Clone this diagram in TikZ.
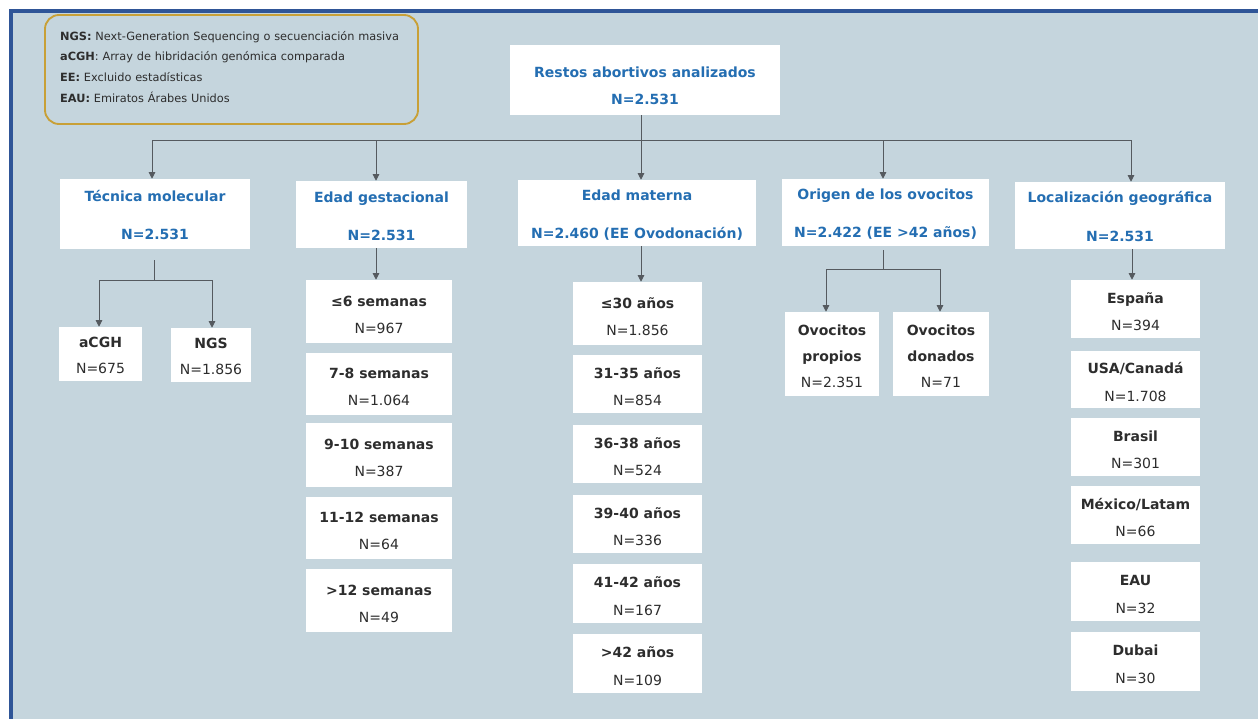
\documentclass[tikz,border=0pt]{standalone}
\usepackage{fontspec}
\setmainfont{DejaVu Sans}
\usetikzlibrary{arrows.meta}
\definecolor{bgc}{RGB}{197,213,221}
\definecolor{bord}{RGB}{47,85,151}
\definecolor{gold}{RGB}{200,160,55}
\definecolor{hblue}{RGB}{36,110,178}
\definecolor{txt}{RGB}{45,45,45}
\definecolor{lnc}{RGB}{85,90,95}
\newcommand{\Tst}[1]{\rule{0pt}{#1pt}}
\newcommand{\Bst}[1]{\rule[-#1pt]{0pt}{#1pt}}
\tikzset{
  sz/.style 2 args={minimum width=#1*0.75pt, minimum height=#2*0.75pt},
  hdr/.style={fill=white, draw=none, text=hblue, inner sep=0pt, align=center,
    font={\fontsize{10.5}{28.5}\selectfont\bfseries}},
  rootbox/.style={hdr, font={\fontsize{10.5}{20.25}\selectfont\bfseries}},
  subbox/.style={fill=white, draw=none, text=txt, inner sep=0pt, align=center,
    font={\fontsize{10.5}{20.6}\selectfont}},
  legendbox/.style={draw=gold, line width=1.4pt, fill=bgc, rounded corners=10.5pt,
    inner xsep=11.25pt, inner ysep=0pt, text width=257pt, align=left, text=txt,
    font={\fontsize{8.5}{15.5}\selectfont}},
  ln/.style={draw=lnc, line width=0.7pt},
  arr/.style={ln, -{Triangle[length=5pt,width=5pt]}},
}
\begin{document}
\begin{tikzpicture}[x=0.75pt,y=-0.75pt]
\useasboundingbox (0,0) rectangle (1258,719);
% frame
\fill[white] (0,0) rectangle (1258,719);
\fill[bgc] (11,11) rectangle (1258,719);
\fill[bord] (9,9) rectangle (1258,12.5);
\fill[bord] (9,9) rectangle (12.5,719);

% legend
\node[legendbox, sz={373}{109}] (leg) at (231.5,69.5) {%
\textbf{NGS:} Next-Generation Sequencing o secuenciación masiva\\
\textbf{aCGH}: Array de hibridación genómica comparada\\
\textbf{EE:} Excluido estadísticas\\
\textbf{EAU:} Emiratos Árabes Unidos\Bst{4.5}};

% root
\node[rootbox, sz={270}{70}] (root) at (645,80) {\Tst{17}Restos abortivos analizados\\N=2.531};

% headers
\node[hdr, sz={190}{70}] (tec) at (155,214) {\Tst{11}Técnica molecular\\N=2.531\Bst{1}};
\node[hdr, sz={171}{67}] (ges) at (381.5,214.5) {\Tst{11}Edad gestacional\\N=2.531\Bst{1}};
\node[hdr, sz={238}{66}] (mat) at (637,213) {\Tst{11}Edad materna\\N=2.460 (EE Ovodonación)\Bst{1}};
\node[hdr, sz={207}{67}] (ori) at (885.5,212.5) {\Tst{11}Origen de los ovocitos\\N=2.422 (EE >42 años)\Bst{1}};
\node[hdr, sz={210}{67}, font={\fontsize{10.5}{29.2}\selectfont\bfseries}] (loc) at (1120,215.5) {\Tst{11}Localización geográfica\\N=2.531\Bst{1}};

% technique
\node[subbox, sz={83}{54}, font={\fontsize{10.5}{19.8}\selectfont}] (acgh) at (100.5,354) {\Tst{10}\textbf{aCGH}\\N=675};
\node[subbox, sz={80}{54}, font={\fontsize{10.5}{19.8}\selectfont}] (ngs) at (211,355) {\Tst{10}\textbf{NGS}\\N=1.856};

% gestational
\node[subbox, sz={146}{63}] (g1) at (379,311.5) {\Tst{12.5}\textbf{≤6 semanas}\\N=967};
\node[subbox, sz={146}{62}] (g2) at (379,384) {\Tst{12.5}\textbf{7-8 semanas}\\N=1.064};
\node[subbox, sz={146}{64}] (g3) at (379,455) {\Tst{12.5}\textbf{9-10 semanas}\\N=387};
\node[subbox, sz={146}{62}] (g4) at (379,528) {\Tst{12.5}\textbf{11-12 semanas}\\N=64};
\node[subbox, sz={146}{63}] (g5) at (379,600.5) {\Tst{12.5}\textbf{>12 semanas}\\N=49};

% maternal
\node[subbox, sz={129}{63}] (m1) at (637.5,313.5) {\Tst{12.5}\textbf{≤30 años}\\N=1.856};
\node[subbox, sz={129}{58}] (m2) at (637.5,384) {\Tst{12}\textbf{31-35 años}\\N=854};
\node[subbox, sz={129}{58}] (m3) at (637.5,454) {\Tst{12}\textbf{36-38 años}\\N=524};
\node[subbox, sz={129}{58}] (m4) at (637.5,524) {\Tst{12}\textbf{39-40 años}\\N=336};
\node[subbox, sz={129}{59}] (m5) at (637.5,593.5) {\Tst{12}\textbf{41-42 años}\\N=167};
\node[subbox, sz={129}{59}] (m6) at (637.5,663.5) {\Tst{12}\textbf{>42 años}\\N=109};

% oocytes
\node[subbox, sz={94}{84}, font={\fontsize{10.5}{19.6}\selectfont}] (op) at (832,354) {\Tst{11}\textbf{Ovocitos}\\\textbf{propios}\\N=2.351};
\node[subbox, sz={96}{84}, font={\fontsize{10.5}{19.6}\selectfont}] (od) at (941,354) {\Tst{11}\textbf{Ovocitos}\\\textbf{donados}\\N=71};

% location
\node[subbox, sz={129}{58}] (l1) at (1135.5,309) {\Tst{12}\textbf{España}\\N=394};
\node[subbox, sz={129}{57}] (l2) at (1135.5,379.5) {\Tst{12}\textbf{USA/Canadá}\\N=1.708};
\node[subbox, sz={129}{58}] (l3) at (1135.5,447) {\Tst{12}\textbf{Brasil}\\N=301};
\node[subbox, sz={129}{58}] (l4) at (1135.5,515) {\Tst{12}\textbf{México/Latam}\\N=66};
\node[subbox, sz={129}{59}] (l5) at (1135.5,591.5) {\Tst{12}\textbf{EAU}\\N=32};
\node[subbox, sz={129}{59}] (l6) at (1135.5,661.5) {\Tst{12}\textbf{Dubai}\\N=30};

% bus coordinates
\coordinate (b1) at (152,140);
\coordinate (b2) at (376,140);
\coordinate (b3) at (641,140);
\coordinate (b4) at (883,140);
\coordinate (b5) at (1131,140);
\draw[ln] (b3 |- root.south) -- (b3);
\draw[ln] (b1) -- (b5);
\draw[arr] (b1) -- (b1 |- tec.north);
\draw[arr] (b2) -- (b2 |- ges.north);
\draw[arr] (b3) -- (b3 |- mat.north);
\draw[arr] (b4) -- (b4 |- ori.north);
\draw[arr] (b5) -- (b5 |- loc.north);

% technique split
\coordinate (tj) at (154,280);
\coordinate (tl) at (99,280);
\coordinate (tr) at (212,280);
\draw[ln] (tj |- tec.south) ++(0,11) -- (tj);
\draw[ln] (tl) -- (tr);
\draw[arr] (tl) -- (tl |- acgh.north);
\draw[arr] (tr) -- (tr |- ngs.north);

% gestational / maternal / location
\coordinate (gx) at (376,0);
\coordinate (mx) at (641,0);
\coordinate (lx) at (1132,0);
\draw[arr] (gx |- ges.south) -- (gx |- g1.north);
\draw[arr] (mx |- mat.south) -- (mx |- m1.north);
\draw[arr] (lx |- loc.south) -- (lx |- l1.north);

% oocyte split
\coordinate (oj) at (883,269);
\coordinate (ol) at (826,269);
\coordinate (or) at (940,269);
\draw[ln] (oj |- ori.south) ++(0,4) -- (oj);
\draw[ln] (ol) -- (or);
\draw[arr] (ol) -- (ol |- op.north);
\draw[arr] (or) -- (or |- od.north);
\end{tikzpicture}
\end{document}
